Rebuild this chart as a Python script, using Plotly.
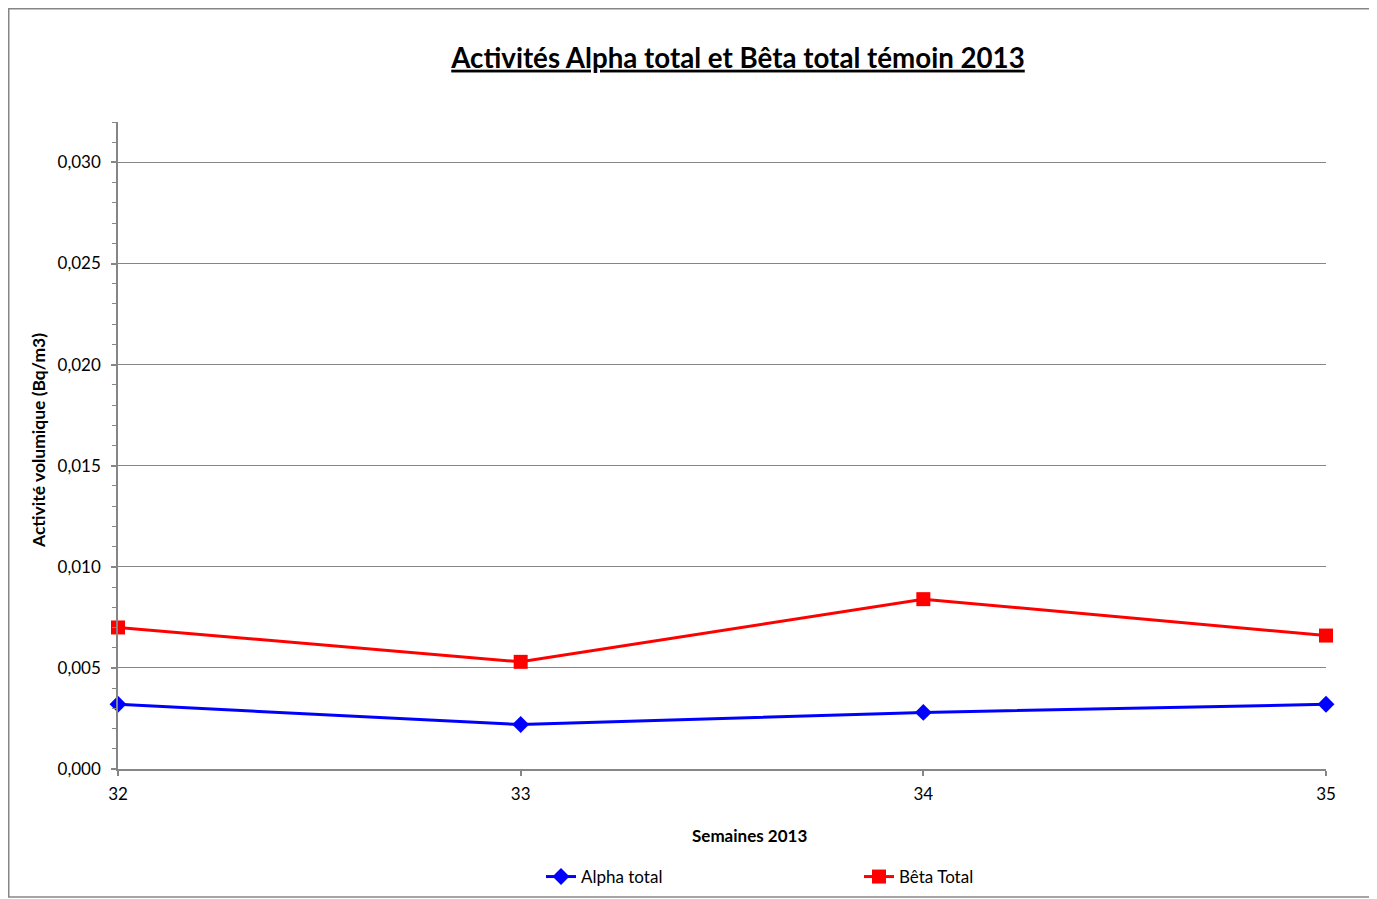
import plotly.graph_objects as go

weeks = [32, 33, 34, 35]
alpha_total = [0.0032, 0.0022, 0.0028, 0.0032]
beta_total = [0.0070, 0.0053, 0.0084, 0.0066]

# page body has an 8px margin; figure spans screen 8..1377 x 8..899
OFF = 8
W, H = 1377 - OFF, 899 - OFF
L, T = 118 - OFF, 122 - OFF
R = W - (1326 - OFF)
B = H - (769 - OFF)
pw, ph = W - L - R, H - T - B

def px_x(sx):
    return (sx - OFF - L) / pw

def px_y(sy):
    return (H - B - (sy - OFF)) / ph

font = "Lato"
grey = "#868686"

fig = go.Figure()
fig.add_trace(go.Scatter(
    x=weeks, y=alpha_total, name="Alpha total", mode="lines+markers",
    line=dict(color="#0000FF", width=3),
    marker=dict(symbol="diamond", size=13, color="#0000FF"),
    cliponaxis=False,
))
fig.add_trace(go.Scatter(
    x=weeks, y=beta_total, name="Bêta Total", mode="lines+markers",
    line=dict(color="#FF0000", width=3),
    marker=dict(symbol="square", size=14, color="#FF0000"),
    cliponaxis=False,
))

fig.update_layout(
    width=W, height=H,
    margin=dict(l=L, r=R, t=T, b=B, autoexpand=False),
    paper_bgcolor="white", plot_bgcolor="white",
    separators=", ",
    font=dict(family=font, size=17, color="black"),
    title=dict(
        text="<u><b>Activités Alpha total et Bêta total témoin 2013</b></u>",
        x=(738 - OFF) / W, xanchor="center", y=1 - (58 - OFF) / H, yanchor="middle",
        font=dict(family=font, size=27.7, color="black"),
    ),
    xaxis=dict(
        range=[32, 35], tickvals=weeks, ticktext=[str(w) for w in weeks],
        showgrid=False, zeroline=False,
        showline=True, linecolor=grey, linewidth=1.5,
        ticks="outside", ticklen=5, tickcolor=grey, tickwidth=1.5,
        ticklabelstandoff=4,
        tickfont=dict(size=17),
    ),
    yaxis=dict(
        range=[0, 0.032], dtick=0.005, tick0=0, tickformat=".3f",
        showgrid=True, gridcolor=grey, gridwidth=1,
        zeroline=False,
        showline=True, linecolor=grey, linewidth=1.5,
        ticks="outside", ticklen=5, tickcolor=grey, tickwidth=1.5,
        ticklabelstandoff=7,
        minor=dict(dtick=0.001, tick0=0, ticks="outside", ticklen=4, tickcolor=grey, tickwidth=1, showgrid=False),
        tickfont=dict(size=17),
    ),
    legend=dict(
        orientation="h", x=px_x(541), xanchor="left", y=px_y(877), yanchor="middle",
        entrywidth=273, entrywidthmode="pixels",
        font=dict(size=17), bgcolor="rgba(0,0,0,0)",
    ),
    showlegend=True,
)

fig.add_annotation(
    text="<b>Semaines 2013</b>", xref="paper", yref="paper",
    x=px_x(749), y=px_y(835), xanchor="center", yanchor="middle",
    showarrow=False, font=dict(size=17),
)
fig.add_annotation(
    text="<b>Activité volumique (Bq/m3)</b>", xref="paper", yref="paper",
    x=px_x(38), y=px_y(441), xanchor="center", yanchor="middle",
    textangle=-90, showarrow=False, font=dict(size=17.5),
)

fig.add_shape(
    type="rect", xref="paper", yref="paper",
    x0=px_x(OFF + 0.75), x1=px_x(1372), y0=px_y(897), y1=px_y(OFF + 0.75),
    line=dict(color=grey, width=1.5), fillcolor="rgba(0,0,0,0)", layer="below",
)

fig.write_html("out.html")
